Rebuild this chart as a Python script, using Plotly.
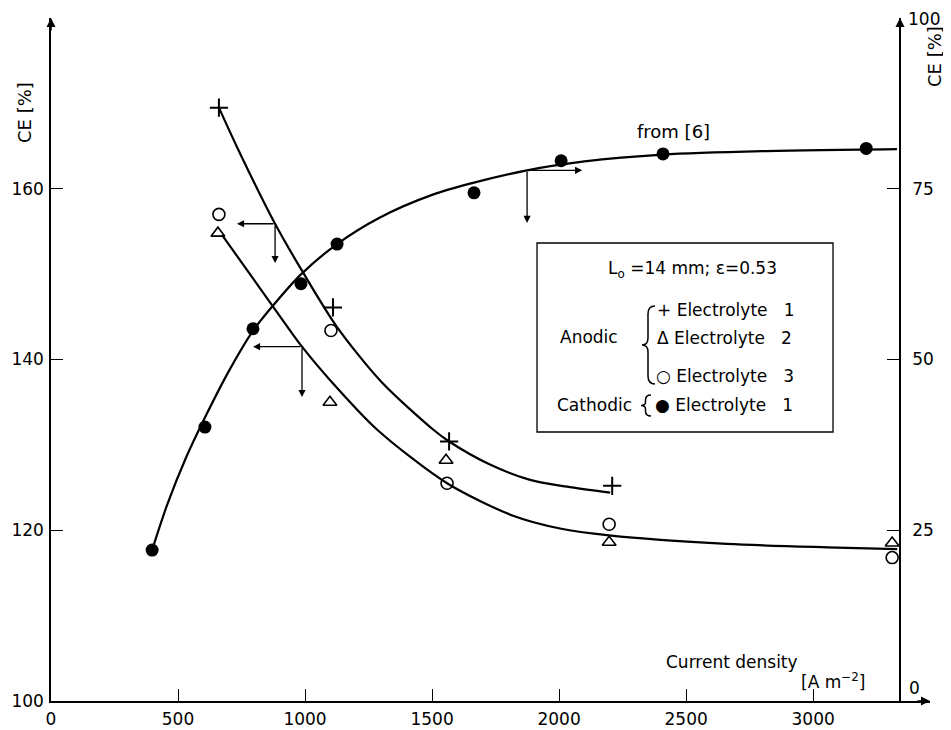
import plotly.graph_objects as go

# ---------------- data ----------------
# Anodic, electrolyte 1 (+), left axis CE [%]
anodic_e1_current = [661, 1110, 1567, 2209]
anodic_e1_ce = [169.5, 146.1, 130.4, 125.2]
# Anodic, electrolyte 2 (triangle)
anodic_e2_current = [657, 1098, 1555, 2197, 3311]
anodic_e2_ce = [154.8, 135.0, 128.2, 118.6, 118.5]
# Anodic, electrolyte 3 (open circle)
anodic_e3_current = [661, 1102, 1559, 2197, 3311]
anodic_e3_ce = [157.0, 143.4, 125.5, 120.7, 116.8]
# Cathodic, electrolyte 1 (filled circle), right axis CE [%]
cathodic_current = [398, 606, 795, 984, 1126, 1665, 2008, 2409, 3209]
cathodic_ce = [22.1, 40.1, 54.5, 61.1, 66.9, 74.4, 79.1, 80.1, 80.9]

# fitted curves as drawn in the figure
fit_e1_current = [661, 732, 882, 992, 1126, 1300, 1504, 1567, 1728, 1886, 2031, 2201]
fit_e1_ce = [169.5, 164.9, 155.9, 150.2, 143.8, 137.4, 131.8, 130.4, 127.7, 125.9, 125.1, 124.4]
fit_e23_current = [673, 874, 988, 1098, 1283, 1559, 1819, 2004, 2197, 2661, 3055, 3331]
fit_e23_ce = [154.6, 146.2, 141.5, 137.6, 131.8, 125.5, 121.7, 120.2, 119.4, 118.4, 118.0, 117.8]
fit_cath_current = [398, 456, 530, 606, 700, 795, 874, 985, 1126, 1295, 1500, 1665,
                    1874, 2100, 2409, 2800, 3330]
fit_cath_ce = [22.1, 28.6, 35.5, 41.5, 48.3, 54.2, 57.9, 62.5, 66.9, 70.8, 74.1, 75.9,
               77.7, 79.0, 80.0, 80.5, 80.8]

# reading arrows: (origin x, origin y, horizontal target x, vertical target y)
arrow_e1 = (882, 155.9, 732, 151.3)
arrow_e23 = (988, 141.5, 795, 135.6)
arrow_cath = (1874, 77.7, 2091, 70.0)

x_tick_vals = [0, 500, 1000, 1500, 2000, 2500, 3000]
x_tick_text = ["0", "500", "1000", "1500", "2000", "2500", "3000"]
yl_tick_vals = [100, 120, 140, 160]
yr_tick_vals = [25, 50, 75]
yr_end_labels = ["0", "100"]

FONT = "DejaVu Sans"
FS = 17
BLACK = "black"

# page offset caused by the default 8px body margin
OFF = 8
# plot-area frame in page pixels
L, R, T, B = 51, 930, 18, 701
W, H = 951 - OFF, 730 - OFF


def px(x):
    return (x - L) / (R - L)


def py(y):
    return (B - y) / (B - T)


fig = go.Figure()

line_style = dict(color=BLACK, width=2.2, shape="spline", smoothing=0.8)
fig.add_trace(go.Scatter(x=fit_e1_current, y=fit_e1_ce, mode="lines", line=line_style,
                         hoverinfo="skip", showlegend=False))
fig.add_trace(go.Scatter(x=fit_e23_current, y=fit_e23_ce, mode="lines", line=line_style,
                         hoverinfo="skip", showlegend=False))
fig.add_trace(go.Scatter(x=fit_cath_current, y=fit_cath_ce, mode="lines", yaxis="y2",
                         line=line_style, hoverinfo="skip", showlegend=False))

fig.add_trace(go.Scatter(x=anodic_e1_current, y=anodic_e1_ce, mode="markers",
                         marker=dict(symbol="cross-thin-open", size=13, color=BLACK,
                                     line=dict(color=BLACK, width=2)),
                         showlegend=False))
fig.add_trace(go.Scatter(x=anodic_e2_current, y=anodic_e2_ce, mode="markers",
                         marker=dict(symbol="triangle-up-open", size=12, color=BLACK,
                                     line=dict(color=BLACK, width=1.6)),
                         showlegend=False))
fig.add_trace(go.Scatter(x=anodic_e3_current, y=anodic_e3_ce, mode="markers",
                         marker=dict(symbol="circle-open", size=12, color=BLACK,
                                     line=dict(color=BLACK, width=1.6)),
                         showlegend=False))
fig.add_trace(go.Scatter(x=cathodic_current, y=cathodic_ce, mode="markers", yaxis="y2",
                         marker=dict(symbol="circle", size=13, color=BLACK),
                         showlegend=False))

annotations = []


def reading_arrows(a, yref):
    x0, y0, xh, yv = a
    for (hx, hy) in [(xh, y0), (x0, yv)]:
        annotations.append(dict(x=hx, y=hy, ax=x0, ay=y0, xref="x", yref=yref,
                                axref="x", ayref=yref, text="", showarrow=True,
                                arrowhead=2, arrowsize=1.1, arrowwidth=1.3,
                                arrowcolor=BLACK, standoff=0, startstandoff=0))


reading_arrows(arrow_e1, "y")
reading_arrows(arrow_e23, "y")
reading_arrows(arrow_cath, "y2")

# axis arrows
for (xa, ya, axp, ayp) in [(0, 1, 0, 14), (px(900), 1, 0, 14), (1, 0, -14, 0)]:
    annotations.append(dict(x=xa, y=ya, xref="paper", yref="paper", ax=axp, ay=ayp,
                            text="", showarrow=True, arrowhead=2, arrowsize=1.2,
                            arrowwidth=1.5, arrowcolor=BLACK, standoff=0))


def txt(s, x, y, xanchor="center", angle=0, size=FS):
    annotations.append(dict(text=s, x=px(x), y=py(y), xref="paper", yref="paper",
                            xanchor=xanchor, yanchor="middle", showarrow=False,
                            textangle=angle, font=dict(family=FONT, size=size, color=BLACK)))


NB = "\u00a0"
txt("CE [%]", 25, 113, angle=-90, size=18)
txt("CE [%]", 935, 57, angle=-90, size=18)
txt("from [6]", 673, 132, size=18)
txt("Current density", 732, 662, size=17)
txt("[A m<sup>−2</sup>]", 833, 681, size=17)
txt(yr_end_labels[0], 914, 688)
txt(yr_end_labels[1], 906, 19, xanchor="left")
txt("L<sub>o</sub> =14" + NB + "mm;" + NB + "ε=0.53", 692, 269, size=17)
txt("Anodic", 589, 337, size=17)
txt("+" + NB + "Electrolyte" + NB * 3 + "1", 655, 310, xanchor="left", size=17)
txt("Δ" + NB + "Electrolyte" + NB * 3 + "2", 655, 338, xanchor="left", size=17)
txt("○" + NB + "Electrolyte" + NB * 3 + "3", 654, 376, xanchor="left", size=17)
txt("Cathodic", 634, 405, xanchor="right", size=17)
txt("●" + NB + "Electrolyte" + NB * 3 + "1", 653, 405, xanchor="left", size=17)


def path(cmds):
    out = []
    for c in cmds:
        if isinstance(c, str):
            out.append(c)
        else:
            out.append(f"{px(c[0]):.5f},{py(c[1]):.5f}")
    return " ".join(out)


brace_anodic = path(["M", (655, 306), "Q", (648, 306), (648, 314), "L", (648, 338),
                     "Q", (648, 345), (642, 345), "Q", (648, 345), (648, 352),
                     "L", (648, 376), "Q", (648, 384), (655, 384)])
brace_cath = path(["M", (651, 395), "Q", (645.5, 395), (645.5, 400), "L", (645.5, 402),
                   "Q", (645.5, 405.5), (641, 405.5), "Q", (645.5, 405.5), (645.5, 409),
                   "L", (645.5, 411), "Q", (645.5, 416), (651, 416)])

shapes = [
    dict(type="rect", xref="paper", yref="paper", x0=px(537), x1=px(833),
         y0=py(432), y1=py(243), line=dict(color=BLACK, width=1.3)),
    dict(type="path", xref="paper", yref="paper", path=brace_anodic,
         line=dict(color=BLACK, width=1.5)),
    dict(type="path", xref="paper", yref="paper", path=brace_cath,
         line=dict(color=BLACK, width=1.5)),
]

axis_common = dict(showline=True, linecolor=BLACK, linewidth=1.5, ticks="inside",
                   ticklen=12, tickwidth=1.3, tickcolor=BLACK, showgrid=False,
                   zeroline=False, automargin=False,
                   tickfont=dict(family=FONT, size=FS, color=BLACK))

fig.update_layout(
    template="none",
    width=W, height=H,
    margin=dict(l=L - OFF, r=W - (R - OFF), t=T - OFF, b=H - (B - OFF), pad=0,
                autoexpand=False),
    paper_bgcolor="white", plot_bgcolor="white",
    showlegend=False,
    xaxis=dict(range=[0, 3460], domain=[0, 1], tickvals=x_tick_vals,
               ticktext=x_tick_text, ticklabelstandoff=2, **axis_common),
    yaxis=dict(range=[100, 180], tickvals=yl_tick_vals, ticklabelstandoff=2,
               **axis_common),
    yaxis2=dict(range=[0, 100], overlaying="y", anchor="free", position=px(900),
                side="right", tickvals=yr_tick_vals, ticklabelstandoff=8, **axis_common),
    annotations=annotations,
    shapes=shapes,
    font=dict(family=FONT, size=FS, color=BLACK),
)

fig.write_html("out.html")
